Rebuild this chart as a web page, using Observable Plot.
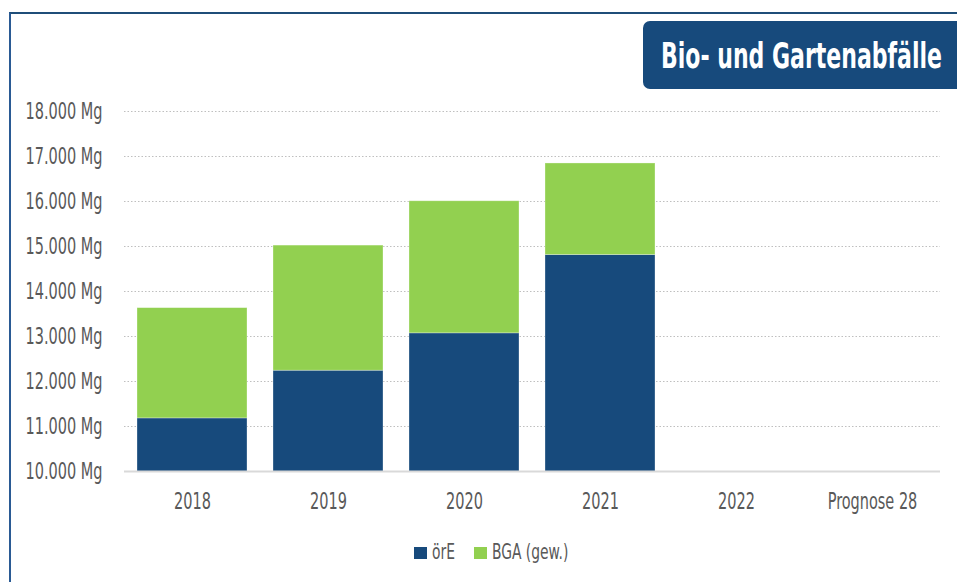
<!DOCTYPE html>
<html><head><meta charset="utf-8">
<script src="https://cdn.jsdelivr.net/npm/d3@7"></script>
<script src="https://cdn.jsdelivr.net/npm/@observablehq/plot@0.6"></script>
<style>
body{margin:0;background:#fff;}
#wrap{position:relative;width:957px;height:582px;overflow:hidden;font-family:"DejaVu Sans Condensed","DejaVu Sans",sans-serif;}
#frame{position:absolute;left:9px;top:12px;width:1000px;height:1000px;border-top:2px solid #1F4E79;border-left:2px solid #2A5A94;}
#title{position:absolute;left:643px;top:21px;width:330px;height:68px;background:#174A7C;border-radius:7px;}
#title span{position:absolute;left:18px;top:18px;color:#fff;font-weight:bold;font-size:35px;line-height:35px;white-space:nowrap;transform-origin:0 50%;display:inline-block;}
#chart{position:absolute;left:0;top:0;}
.lg-sw{position:absolute;width:13px;height:12px;top:547px;}
.lg-tx{position:absolute;top:541px;font-size:22px;line-height:22px;color:#595959;white-space:nowrap;transform-origin:0 50%;display:inline-block;}
</style></head>
<body>
<div id="wrap">
  <div id="frame"></div>
  <div id="chart"></div>
  <div id="title"><span id="titletext">Bio- und Gartenabfälle</span></div>
  <div id="legend"></div>
</div>
<script>
const years = ["2018", "2019", "2020", "2021", "2022", "Prognose 28"];
const seriesNames = ["örE", "BGA (gew.)"];
const seriesColors = ["#174A7C", "#92D050"];
const oerE = [11180, 12240, 13070, 14810, null, null];
const bga = [2450, 2780, 2935, 2035, null, null];
const yTicks = [10000, 11000, 12000, 13000, 14000, 15000, 16000, 17000, 18000];

const rows = [];
years.forEach((y, i) => {
  if (oerE[i] != null) rows.push({year: y, series: seriesNames[0], value: oerE[i]});
  if (bga[i] != null) rows.push({year: y, series: seriesNames[1], value: bga[i]});
});

const fmt = d => d3.format(",")(d).replace(/,/g, ".") + " Mg";

const chart = Plot.plot({
  width: 957,
  height: 530,
  marginLeft: 124,
  marginRight: 17,
  marginTop: 111,
  marginBottom: 59,
  style: {fontSize: "23px", fontFamily: "'DejaVu Sans Condensed','DejaVu Sans',sans-serif", color: "#595959", background: "transparent"},
  x: {domain: years, paddingInner: 0.19, paddingOuter: 0.095, label: null, tickSize: 0, tickPadding: 21},
  y: {domain: [10000, 18000], ticks: yTicks, tickFormat: fmt, tickSize: 0, tickPadding: 22, label: null},
  color: {domain: seriesNames, range: seriesColors},
  marks: [
    Plot.gridY(yTicks, {stroke: "#bfbfbf", strokeOpacity: 1, strokeDasharray: "1.5,2"}),
    Plot.barY(rows, {x: "year", y: "value", fill: "series", clip: true, stroke: "#ffffff", strokeOpacity: 0.4, strokeWidth: 0.75}),
    Plot.ruleY([10000], {stroke: "#d9d9d9", strokeWidth: 2})
  ]
});
document.getElementById("chart").appendChild(chart);

// narrow the glyphs to imitate the condensed typeface of the original
const squeeze = 0.7;
chart.querySelectorAll("text").forEach(t => {
  const w = t.getComputedTextLength();
  t.setAttribute("textLength", (w * squeeze).toFixed(1));
  t.setAttribute("lengthAdjust", "spacingAndGlyphs");
});

const tt = document.getElementById("titletext");
tt.style.transform = `scaleX(${281 / tt.offsetWidth})`;

const lg = document.getElementById("legend");
const lgX = [414, 474];
seriesNames.forEach((n, i) => {
  const sw = document.createElement("div");
  sw.className = "lg-sw";
  sw.style.left = lgX[i] + "px";
  sw.style.background = seriesColors[i];
  lg.appendChild(sw);
  const tx = document.createElement("span");
  tx.className = "lg-tx";
  tx.style.left = (lgX[i] + 18) + "px";
  tx.textContent = n;
  lg.appendChild(tx);
  tx.style.transform = `scaleX(${squeeze})`;
});
</script>
</body></html>
